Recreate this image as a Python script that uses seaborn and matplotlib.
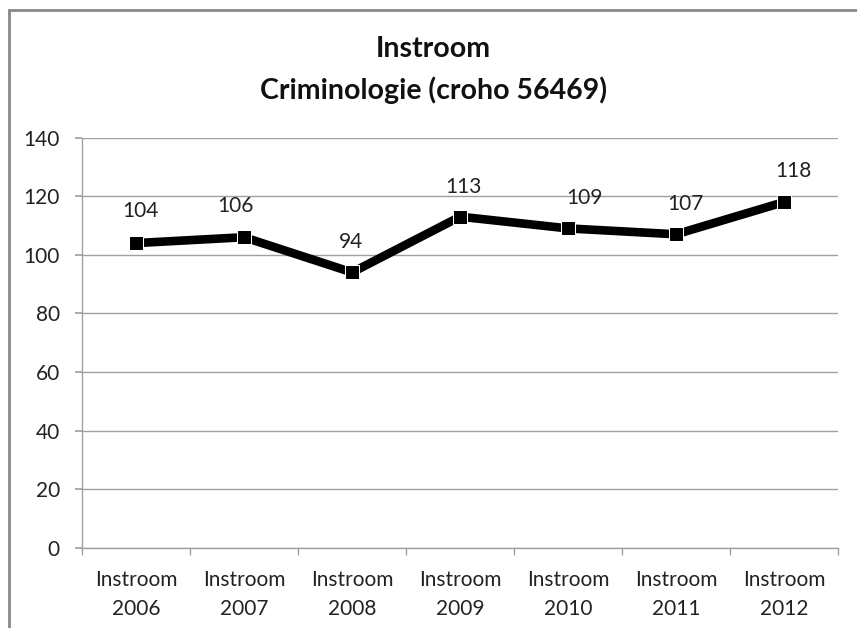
import matplotlib
matplotlib.use("Agg")
import matplotlib.pyplot as plt
import seaborn as sns
import pandas as pd
from matplotlib.patches import Rectangle

jaren = ["2006", "2007", "2008", "2009", "2010", "2011", "2012"]
labels = ["Instroom\n" + j for j in jaren]
instroom = [104, 106, 94, 113, 109, 107, 118]

# verschuiving van de labels t.o.v. het punt (pixels)
label_dx = [4, -9, -1, 3, 16, 9, 9]
label_dy = [32, 31, 30, 30, 30, 30, 31]

df = pd.DataFrame({"cat": labels, "waarde": instroom})

sns.set_theme(style="white")
plt.rcParams["font.family"] = ["Lato", "DejaVu Sans"]

fig = plt.figure(figsize=(8.57, 6.28), dpi=100)
ax = fig.add_axes([0.0957, 0.1274, 0.978 - 0.0957, 0.781 - 0.1274])

# rand om de hele grafiek
fig.patches.append(Rectangle((9 / 857, -0.05), 1.2, 1 - 10 / 628 + 0.05,
                             transform=fig.transFigure, fill=False,
                             edgecolor="#888888", linewidth=2))

sns.lineplot(data=df, x="cat", y="waarde", ax=ax, color="black",
             linewidth=6.2, marker="s", markersize=9.5, sort=False)

for i, v in enumerate(instroom):
    ax.annotate(str(v), (i, v), xytext=(label_dx[i] * 0.72, label_dy[i] * 0.72),
                textcoords="offset points", ha="center", va="center",
                fontsize=15, color="#222222")

ax.set_ylim(0, 140)
ax.set_yticks(range(0, 141, 20))
ax.set_xlim(-0.5, len(jaren) - 0.5)
ax.yaxis.grid(True, color="#a0a0a0", linewidth=1)
ax.set_axisbelow(True)
ax.set_xlabel("")
ax.set_ylabel("")

for s in ["top", "right"]:
    ax.spines[s].set_visible(False)
for s in ["left", "bottom"]:
    ax.spines[s].set_color("#a0a0a0")
    ax.spines[s].set_linewidth(1)

ax.tick_params(axis="y", labelsize=15, colors="#222222", length=5,
               direction="out", left=True, color="#a0a0a0", pad=11)
ax.tick_params(axis="x", labelsize=15, colors="#222222", bottom=False, pad=10)
ax.set_xticks(range(len(jaren)))
ax.set_xticklabels(labels, linespacing=1.55)
ax.set_xticks([i - 0.5 for i in range(len(jaren) + 1)], minor=True)
ax.tick_params(axis="x", which="minor", bottom=True, length=5,
               direction="out", color="#a0a0a0")

fig.text(0.506, 1 - 49 / 628, "Instroom", ha="center", va="center",
         fontsize=20.5, fontweight="bold", color="#111111")
fig.text(0.506, 1 - 90 / 628, "Criminologie (croho 56469)", ha="center",
         va="center", fontsize=20.5, fontweight="bold", color="#111111")

fig.savefig("out.png", dpi=100)
